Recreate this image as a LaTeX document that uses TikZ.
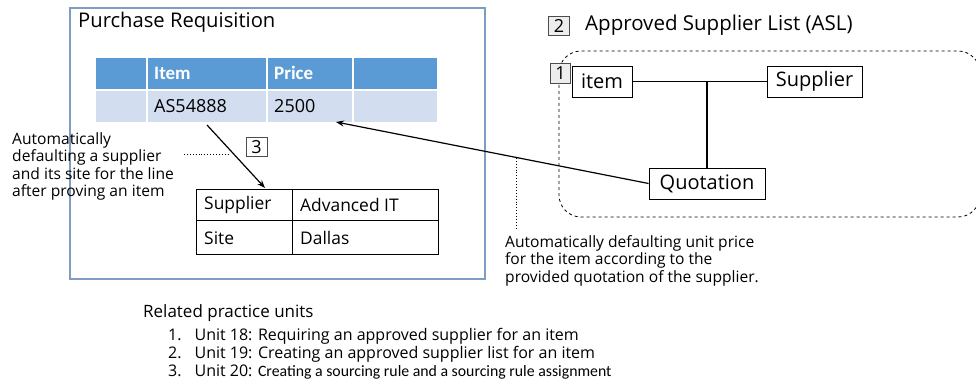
\documentclass[tikz,border=0pt]{standalone}
\usepackage{fontspec}
\setmainfont{Open Sans}
\newfontfamily\calfont{Carlito}
\usetikzlibrary{arrows.meta}
\definecolor{prborder}{HTML}{7F9CC2}
\definecolor{hdrblue}{HTML}{5B9BD5}
\definecolor{rowblue}{HTML}{D2DEEF}
\definecolor{numgray}{HTML}{EDEDED}
\begin{document}
\begin{tikzpicture}[x=1pt,y=-1pt,
  hcell/.style={fill=hdrblue,draw=white,line width=2pt,anchor=north west,inner sep=0pt},
  rcell/.style={fill=rowblue,draw=white,line width=2pt,anchor=north west,inner sep=0pt},
  tcell/.style={draw=black,line width=0.8pt,anchor=north west,inner sep=0pt},
  ent/.style={draw=black,line width=0.8pt,fill=white,inner sep=0pt,font=\fontsize{20}{22}\selectfont},
  numbox/.style={draw=black!70,line width=0.6pt,inner sep=0pt,font=\fontsize{18}{18}\selectfont,minimum width=21pt,minimum height=19pt},
  ann/.style={align=left,inner sep=0pt},
  arr/.style={line width=1.2pt,-{Stealth[length=8pt,width=6pt]}},
  link/.style={line width=1.2pt}]
\useasboundingbox (0,0) rectangle (976,382);

% Purchase Requisition frame
\node[draw=prborder,line width=1.8pt,anchor=north west,minimum width=415pt,minimum height=271pt,inner sep=0pt] (pr) at (69,7) {};
\node[anchor=west,inner sep=0pt,font=\fontsize{20.2}{23}\selectfont] (prt) at (78,22) {Purchase Requisition};

% requisition line table
\node[hcell,minimum width=52pt,minimum height=33pt] (h1) at (94,56) {};
\node[hcell,minimum width=120pt,minimum height=33pt] (h2) at (146,56) {};
\node[hcell,minimum width=86pt,minimum height=33pt] (h3) at (266,56) {};
\node[hcell,minimum width=85pt,minimum height=33pt] (h4) at (352,56) {};
\node[rcell,minimum width=52pt,minimum height=33pt] (d1) at (94,89) {};
\node[rcell,minimum width=120pt,minimum height=33pt] (d2) at (146,89) {};
\node[rcell,minimum width=86pt,minimum height=33pt] (d3) at (266,89) {};
\node[rcell,minimum width=85pt,minimum height=33pt] (d4) at (352,89) {};
\node[anchor=west,inner sep=0pt,text=white,font=\calfont\bfseries\fontsize{19}{21}\selectfont] (ti) at (154,73) {Item};
\node[anchor=west,inner sep=0pt,text=white,font=\calfont\bfseries\fontsize{19}{21}\selectfont] (tp) at (274,73) {Price};
\node[anchor=west,inner sep=0pt,font=\fontsize{18}{20}\selectfont] (tv) at (154,106) {AS54888};
\node[anchor=west,inner sep=0pt,font=\fontsize{18}{20}\selectfont] (tq) at (274,106) {2500};

% supplier / site table
\node[tcell,minimum width=96pt,minimum height=31pt] (s1) at (196,189) {};
\node[tcell,minimum width=146pt,minimum height=31pt] (s2) at (292,189) {};
\node[tcell,minimum width=96pt,minimum height=34pt] (s3) at (196,220) {};
\node[tcell,minimum width=146pt,minimum height=34pt] (s4) at (292,220) {};
\node[anchor=west,inner sep=0pt,font=\fontsize{17.4}{20}\selectfont] (ts1) at (204,205) {Supplier};
\node[anchor=west,inner sep=0pt,font=\fontsize{17.4}{20}\selectfont] (ts2) at (300,205) {Advanced IT};
\node[anchor=west,inner sep=0pt,font=\fontsize{17.4}{20}\selectfont] (ts3) at (204,238) {Site};
\node[anchor=west,inner sep=0pt,font=\fontsize{17.4}{20}\selectfont] (ts4) at (300,238) {Dallas};

% step 3 marker and annotation
\node[numbox,fill=white] (n3) at (256.5,147) {3};
\node[ann,anchor=north west,font=\fontsize{15.6}{17.6}\selectfont] (a1) at (12,132) {Automatically\\defaulting a supplier\\and its site for the line\\after proving an item};
\coordinate (a1e) at (184,154);
\coordinate (arr3s) at (207,125);
\coordinate (arr3e) at (265,188);
\draw[arr] (arr3s) -- (arr3e);
\draw[line width=0.9pt,dotted] (a1e) -- (230,154);

% ASL
\node[numbox,fill=numgray] (n2) at (559,26) {2};
\node[anchor=west,inner sep=0pt,font=\fontsize{20.5}{23}\selectfont] (aslt) at (585,25) {Approved Supplier List (ASL)};
\draw[dashed,line width=0.8pt,rounded corners=22pt] (559,51) rectangle (980,217);
\node[numbox,fill=numgray,minimum width=20pt,minimum height=20pt] (n1) at (560.5,73.5) {1};
\node[ent,minimum width=60pt,minimum height=31pt] (it) at (602,81.5) {item};
\node[ent,minimum width=95pt,minimum height=31pt] (sup) at (814.5,81.5) {Supplier};
\node[ent,minimum width=116pt,minimum height=31pt] (quo) at (707,183.5) {Quotation};
\draw[link] (it.east) -- (sup.west);
\coordinate (jn) at (707,81.5);
\draw[link] (jn) -- (quo.north);

% unit price arrow and annotation
\coordinate (pricept) at (336,122);
\draw[arr] (quo.west) -- (pricept);
\coordinate (dtop) at (516,158);
\draw[line width=0.9pt,dotted] (dtop) -- (516,228);
\node[ann,anchor=north west,font=\fontsize{15.6}{17.6}\selectfont] (a2) at (505,235) {Automatically defaulting unit price\\for the item according to the\\provided quotation of the supplier.};

% related practice units
\node[anchor=west,inner sep=0pt,font=\fontsize{17}{19}\selectfont] (rel) at (143,313) {Related practice units};
\node[anchor=west,inner sep=0pt,font=\fontsize{16}{18}\selectfont] (u1) at (168,336) {1.\hspace{13pt}Unit 18: Requiring an approved supplier for an item};
\node[anchor=west,inner sep=0pt,font=\fontsize{16}{18}\selectfont] (u2) at (168,354) {2.\hspace{13pt}Unit 19: Creating an approved supplier list for an item};
\node[anchor=west,inner sep=0pt,font=\fontsize{16}{18}\selectfont] (u3) at (168,372) {3.\hspace{13pt}Unit 20: {\calfont\fontsize{15.8}{18}\selectfont Creating a sourcing rule and a sourcing rule assignment}};
\end{tikzpicture}
\end{document}
